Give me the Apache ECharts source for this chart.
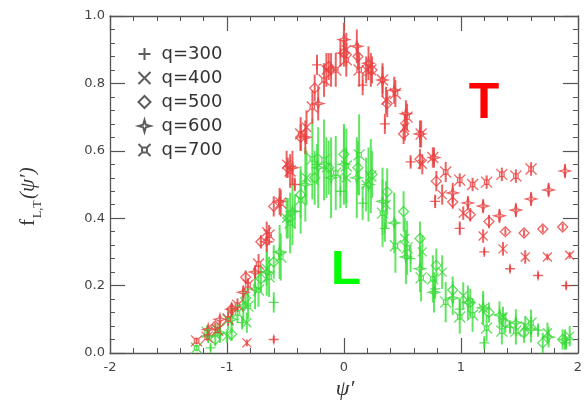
<!DOCTYPE html>
<html>
<head>
<meta charset="utf-8">
<script src="https://cdn.jsdelivr.net/npm/echarts@6/dist/echarts.min.js"></script>
<style>
  html, body { margin: 0; padding: 0; background: #fff; }
  #chart { width: 585px; height: 401px; }
</style>
</head>
<body>
<div id="chart"></div>
<script>
// Scaling functions f_T (transverse, red) and f_L (longitudinal, green) vs psi'
const qLabels = ['q=300', 'q=400', 'q=500', 'q=600', 'q=700'];
const xTicks = [-2, -1, 0, 1, 2];
const yTicks = [0, 0.2, 0.4, 0.6, 0.8, 1.0];

// ---- transverse ----
const psiT300 = [-0.60, -0.42, -0.23, -0.03, 0.16, 0.35, 0.57, 0.78, 0.99, 1.20, 1.42, 1.66, 1.90];
const fT300 = [0.04, 0.50, 0.855, 0.89, 0.795, 0.68, 0.567, 0.45, 0.37, 0.30, 0.25, 0.23, 0.20];
const errT300 = [0.01, 0.02, 0.03, 0.04, 0.03, 0.03, 0.02, 0.02, 0.02, 0.01, 0.01, 0.01, 0.01];

const psiT400 = [-0.83, -0.66, -0.49, -0.32, -0.15, 0.02, 0.19, 0.36, 0.52, 0.67, 0.84, 1.02, 1.19, 1.36, 1.55, 1.74, 1.93];
const fT400 = [0.03, 0.36, 0.56, 0.67, 0.84, 0.90, 0.84, 0.75, 0.67, 0.56, 0.47, 0.415, 0.347, 0.309, 0.285, 0.285, 0.29];
const errT400 = [0.01, 0.03, 0.04, 0.05, 0.05, 0.05, 0.04, 0.04, 0.04, 0.03, 0.03, 0.02, 0.02, 0.02, 0.02, 0.01, 0.01];

const psiT500 = [-1.10, -0.96, -0.84, -0.71, -0.60, -0.48, -0.37, -0.25, -0.13, 0.00, 0.12, 0.24, 0.37, 0.51, 0.65, 0.79, 0.93, 1.08, 1.24, 1.38, 1.54, 1.70, 1.87];
const fT500 = [0.08, 0.13, 0.225, 0.33, 0.435, 0.55, 0.64, 0.786, 0.85, 0.89, 0.88, 0.84, 0.74, 0.65, 0.575, 0.51, 0.448, 0.41, 0.39, 0.36, 0.356, 0.368, 0.374];
const errT500 = [0.01, 0.01, 0.02, 0.02, 0.03, 0.03, 0.04, 0.04, 0.04, 0.04, 0.04, 0.04, 0.04, 0.03, 0.03, 0.03, 0.02, 0.02, 0.02, 0.01, 0.01, 0.01, 0.01];

const psiT600 = [-1.16, -1.06, -0.96, -0.86, -0.76, -0.66, -0.55, -0.44, -0.33, -0.22, -0.11, 0.00, 0.11, 0.21, 0.33, 0.43, 0.53, 0.65, 0.77, 0.93, 1.06, 1.19, 1.33, 1.47, 1.60, 1.75, 1.89];
const fT600 = [0.07, 0.10, 0.13, 0.18, 0.24, 0.33, 0.45, 0.55, 0.64, 0.74, 0.84, 0.93, 0.91, 0.86, 0.81, 0.78, 0.71, 0.65, 0.58, 0.475, 0.445, 0.436, 0.407, 0.424, 0.457, 0.484, 0.54];
const errT600 = [0.01, 0.01, 0.02, 0.02, 0.02, 0.03, 0.04, 0.05, 0.05, 0.05, 0.05, 0.05, 0.05, 0.05, 0.05, 0.04, 0.04, 0.04, 0.03, 0.03, 0.02, 0.02, 0.02, 0.02, 0.02, 0.02, 0.02];

const psiT700 = [-1.26, -1.17, -1.08, -0.99, -0.91, -0.82, -0.73, -0.64, -0.54, -0.46, -0.37, -0.27, -0.17, -0.07, 0.02, 0.13, 0.23, 0.33, 0.44, 0.54, 0.66, 0.76, 0.87, 0.99, 1.10, 1.22, 1.35, 1.47, 1.60];
const fT700 = [0.036, 0.047, 0.068, 0.101, 0.142, 0.202, 0.264, 0.350, 0.445, 0.54, 0.65, 0.73, 0.81, 0.84, 0.87, 0.84, 0.84, 0.81, 0.77, 0.70, 0.65, 0.58, 0.537, 0.513, 0.50, 0.507, 0.53, 0.525, 0.546];
const errT700 = [0.01, 0.01, 0.01, 0.02, 0.02, 0.02, 0.03, 0.03, 0.04, 0.05, 0.05, 0.05, 0.05, 0.05, 0.05, 0.05, 0.05, 0.04, 0.04, 0.04, 0.04, 0.03, 0.03, 0.02, 0.02, 0.02, 0.02, 0.02, 0.02];

// ---- longitudinal ----
const psiL300 = [-1.14, -0.87, -0.60, -0.42, -0.23, -0.03, 0.16, 0.35, 0.57, 0.78, 0.99, 1.20, 1.42, 1.66, 1.90];
const fL300 = [0.015, 0.09, 0.15, 0.42, 0.56, 0.48, 0.445, 0.37, 0.28, 0.19, 0.13, 0.03, 0.077, 0.068, 0.03];
const errL300 = [0.01, 0.02, 0.03, 0.05, 0.06, 0.05, 0.05, 0.04, 0.04, 0.03, 0.03, 0.02, 0.02, 0.02, 0.02];

const psiL400 = [-1.00, -0.83, -0.66, -0.49, -0.32, -0.15, 0.02, 0.19, 0.36, 0.52, 0.67, 0.84, 1.02, 1.19, 1.36, 1.55, 1.74, 1.93];
const fL400 = [0.05, 0.09, 0.25, 0.40, 0.52, 0.55, 0.52, 0.50, 0.44, 0.34, 0.30, 0.24, 0.17, 0.133, 0.107, 0.08, 0.06, 0.05];
const errL400 = [0.02, 0.03, 0.05, 0.06, 0.08, 0.09, 0.09, 0.08, 0.07, 0.06, 0.05, 0.05, 0.04, 0.04, 0.03, 0.03, 0.03, 0.03];

const psiL500 = [-1.10, -0.96, -0.84, -0.71, -0.60, -0.48, -0.37, -0.25, -0.13, 0.00, 0.12, 0.24, 0.37, 0.51, 0.65, 0.79, 0.93, 1.08, 1.24, 1.38, 1.54, 1.70, 1.87];
const fL500 = [0.04, 0.056, 0.163, 0.22, 0.27, 0.40, 0.47, 0.52, 0.55, 0.59, 0.55, 0.53, 0.478, 0.42, 0.34, 0.26, 0.187, 0.15, 0.12, 0.09, 0.06, 0.03, 0.04];
const errL500 = [0.02, 0.02, 0.03, 0.04, 0.05, 0.06, 0.07, 0.08, 0.08, 0.08, 0.08, 0.07, 0.07, 0.06, 0.05, 0.05, 0.04, 0.04, 0.03, 0.03, 0.03, 0.03, 0.03];

const psiL600 = [-1.16, -1.06, -0.96, -0.86, -0.76, -0.66, -0.55, -0.44, -0.33, -0.22, -0.11, 0.00, 0.11, 0.21, 0.33, 0.43, 0.53, 0.65, 0.77, 0.93, 1.06, 1.19, 1.33, 1.47, 1.60, 1.75, 1.89];
const fL600 = [0.05, 0.06, 0.10, 0.14, 0.19, 0.24, 0.30, 0.42, 0.50, 0.55, 0.52, 0.56, 0.52, 0.50, 0.45, 0.386, 0.285, 0.25, 0.18, 0.163, 0.15, 0.134, 0.113, 0.09, 0.071, 0.047, 0.04];
const errL600 = [0.02, 0.03, 0.04, 0.05, 0.06, 0.07, 0.08, 0.10, 0.11, 0.12, 0.12, 0.12, 0.12, 0.11, 0.10, 0.09, 0.08, 0.07, 0.06, 0.05, 0.05, 0.05, 0.04, 0.04, 0.04, 0.03, 0.03];

const psiL700 = [-1.26, -1.17, -1.08, -0.99, -0.91, -0.82, -0.73, -0.64, -0.54, -0.46, -0.37, -0.27, -0.17, -0.07, 0.02, 0.13, 0.23, 0.33, 0.44, 0.54, 0.66, 0.76, 0.87, 0.99, 1.10, 1.22, 1.35, 1.47, 1.60];
const fL700 = [0.015, 0.062, 0.068, 0.098, 0.119, 0.139, 0.187, 0.226, 0.285, 0.386, 0.454, 0.576, 0.573, 0.534, 0.555, 0.588, 0.525, 0.415, 0.318, 0.312, 0.223, 0.220, 0.151, 0.107, 0.113, 0.074, 0.065, 0.065, 0.089];
const errL700 = [0.01, 0.02, 0.02, 0.03, 0.03, 0.04, 0.05, 0.06, 0.07, 0.09, 0.10, 0.12, 0.12, 0.11, 0.11, 0.12, 0.11, 0.10, 0.08, 0.08, 0.07, 0.07, 0.06, 0.05, 0.05, 0.04, 0.04, 0.04, 0.04];

// marker outlines, one per momentum transfer
const SYM = {
  plus:  'path://M0,5L10,5M5,0L5,10',
  cross: 'path://M0,0L10,10M0,10L10,0',
  diam:  'path://M5,0L10,5L5,10L0,5Z',
  star:  'path://M5,0L6.1,3.9L10,5L6.1,6.1L5,10L3.9,6.1L0,5L3.9,3.9Z',
  boxx:  'path://M3,3L7,3L7,7L3,7Z M0,0L3,3 M7,7L10,10 M0,10L3,7 M7,3L10,0'
};
const symbols = [SYM.plus, SYM.cross, SYM.diam, SYM.star, SYM.boxx];
const symSizes = [10, 9, 10, 11, 11];

const RED = '#e8403f';
const RED_BAR = 'rgba(232,70,70,0.85)';
const GREEN = '#38d838';
const GREEN_BAR = 'rgba(70,225,70,0.85)';

const groups = {
  L: {
    psi: [psiL300, psiL400, psiL500, psiL600, psiL700],
    f:   [fL300, fL400, fL500, fL600, fL700],
    err: [errL300, errL400, errL500, errL600, errL700]
  },
  T: {
    psi: [psiT300, psiT400, psiT500, psiT600, psiT700],
    f:   [fT300, fT400, fT500, fT600, fT700],
    err: [errT300, errT400, errT500, errT600, errT700]
  }
};

function rows(xs, ys, es) {
  return xs.map((x, i) => [x, ys[i], es[i]]);
}

function errorSeries(name, data, color) {
  return {
    type: 'custom',
    name: name,
    data: data,
    encode: { x: 0, y: 1 },
    clip: true,
    silent: true,
    z: 2,
    renderItem: function (params, api) {
      const x = api.value(0), y = api.value(1), e = api.value(2);
      const lo = api.coord([x, y - e]);
      const hi = api.coord([x, y + e]);
      return {
        type: 'line',
        shape: { x1: lo[0], y1: lo[1], x2: hi[0], y2: hi[1] },
        style: { stroke: color, lineWidth: 2 }
      };
    }
  };
}

function markerSeries(name, data, k, color) {
  return {
    type: 'scatter',
    name: name,
    data: data,
    symbol: symbols[k],
    symbolSize: symSizes[k],
    itemStyle: { color: 'none', borderColor: color, borderWidth: 1.3 },
    silent: true,
    z: 3
  };
}

const series = [];
[['L', GREEN, GREEN_BAR], ['T', RED, RED_BAR]].forEach(([key, col, barCol]) => {
  const g = groups[key];
  for (let k = 0; k < 5; k++) {
    series.push(errorSeries(key + 'err' + k, rows(g.psi[k], g.f[k], g.err[k]), barCol));
  }
  for (let k = 0; k < 5; k++) {
    series.push(markerSeries(key + qLabels[k], rows(g.psi[k], g.f[k], g.err[k]), k, col));
  }
});
// legend entries in dark ink
qLabels.forEach((lab, k) => {
  series.push({
    type: 'scatter', name: lab, data: [],
    symbol: symbols[k], symbolSize: symSizes[k],
    itemStyle: { color: 'none', borderColor: '#333', borderWidth: 1.2 }
  });
});

const AX = '#555';
const axisCommon = {
  axisLine: { show: true, onZero: false, lineStyle: { color: AX, width: 1.3 } },
  axisTick: { show: true, inside: true, length: 15, lineStyle: { color: AX, width: 1.2 } },
  minorTick: { show: true, splitNumber: 5, length: 5, lineStyle: { color: AX, width: 1 } },
  splitLine: { show: false },
  minorSplitLine: { show: false }
};

const option = {
  animation: false,
  backgroundColor: '#fff',
  grid: { left: 110, right: 4, top: 16, bottom: 48 },
  legend: {
    data: qLabels,
    orient: 'vertical',
    left: 131,
    top: 40,
    itemWidth: 12,
    itemHeight: 12,
    itemGap: 6,
    selectedMode: false,
    textStyle: { fontFamily: 'DejaVu Sans', fontSize: 18, color: '#333', padding: [0, 0, 0, 6] }
  },
  xAxis: [
    Object.assign({
      type: 'value', position: 'bottom', min: xTicks[0], max: xTicks[xTicks.length - 1], interval: 1,
      axisLabel: { color: '#444', fontFamily: 'DejaVu Sans', fontSize: 13, margin: 8 }
    }, axisCommon),
    Object.assign({
      type: 'value', position: 'top', min: xTicks[0], max: xTicks[xTicks.length - 1], interval: 1,
      axisLabel: { show: false }
    }, axisCommon)
  ],
  yAxis: [
    Object.assign({
      type: 'value', position: 'left', min: yTicks[0], max: yTicks[yTicks.length - 1], interval: 0.2,
      axisLabel: { color: '#444', fontFamily: 'DejaVu Sans', fontSize: 13, margin: 5,
                   formatter: v => v.toFixed(1) }
    }, axisCommon),
    Object.assign({
      type: 'value', position: 'right', min: yTicks[0], max: yTicks[yTicks.length - 1], interval: 0.2,
      axisLabel: { show: false }
    }, axisCommon)
  ],
  graphic: [
    { // vertical axis title f_{L,T}(psi')
      type: 'group', x: 39, y: 226, rotation: Math.PI / 2,
      children: [
        { type: 'text', x: 0, y: 0, style: { text: 'f', font: '21px "Liberation Serif"', fill: '#333', textVerticalAlign: 'bottom' } },
        { type: 'text', x: 8, y: 5, style: { text: 'L,T', font: '12px "Liberation Serif"', fill: '#333', textVerticalAlign: 'bottom' } },
        { type: 'text', x: 27, y: 0, style: { text: '(ψ′)', font: 'italic 21px "Liberation Serif"', fill: '#333', textVerticalAlign: 'bottom' } }
      ]
    },
    { type: 'text', x: 345, y: 400, style: { text: 'ψ′', font: 'italic 22px "Liberation Serif"', fill: '#333', textAlign: 'center', textVerticalAlign: 'bottom' } },
    { type: 'text', x: 484, y: 104, style: { text: 'T', font: 'bold 50px "Liberation Sans"', fill: '#ff0000', textAlign: 'center', textVerticalAlign: 'middle' } },
    { type: 'text', x: 346, y: 270, style: { text: 'L', font: 'bold 49px "Liberation Sans"', fill: '#00ff00', textAlign: 'center', textVerticalAlign: 'middle' } }
  ],
  series: series
};

const chart = echarts.init(document.getElementById('chart'), null, { renderer: 'canvas' });
chart.setOption(option);
</script>
</body>
</html>
